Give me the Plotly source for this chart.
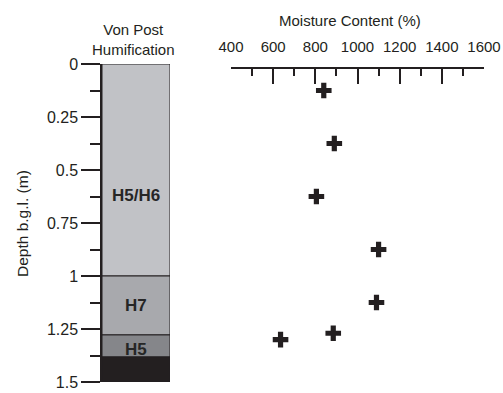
import plotly.graph_objects as go

# ---- data ----
layer_names = ["H5/H6", "H7", "H5", ""]
layer_top = [0.0, 1.0, 1.278, 1.382]
layer_bottom = [1.0, 1.278, 1.382, 1.5]
layer_colors = ["#c1c2c6", "#a8a9ad", "#85868a", "#231f20"]
label_depths = [0.62, 1.14, 1.345]

sample_depth = [0.125, 0.375, 0.625, 0.875, 1.125, 1.27, 1.30]
moisture = [840, 890, 805, 1100, 1090, 885, 635]

depth_ticks = [0, 0.25, 0.5, 0.75, 1, 1.25, 1.5]
depth_ticktext = ["0", "0.25", "0.5", "0.75", "1", "1.25", "1.5"]
moist_ticks = [400, 600, 800, 1000, 1200, 1400, 1600]

W, H = 503, 393
FONT = "Liberation Sans, Arial, sans-serif"
INK = "#231f20"

def px(x):
    return x / W

def py(y):
    return 1 - y / H

fig = go.Figure()

# stratigraphic column
for name, top, bot, col in zip(layer_names, layer_top, layer_bottom, layer_colors):
    fig.add_trace(go.Bar(
        x=[0], y=[bot - top], base=[top], width=[1],
        marker=dict(color=col, line=dict(color=INK, width=1)),
        xaxis="x", yaxis="y", showlegend=False, hoverinfo="skip",
    ))

# moisture points
fig.add_trace(go.Scatter(
    x=moisture, y=sample_depth, mode="markers",
    marker=dict(symbol="cross", size=13, color=INK, line=dict(width=0)),
    xaxis="x2", yaxis="y", showlegend=False,
))

annotations = []
for name, d in zip(layer_names, label_depths):
    annotations.append(dict(
        x=0, y=d, xref="x", yref="y", text="<b>%s</b>" % name, showarrow=False,
        xanchor="center", yanchor="middle",
        font=dict(family=FONT, size=17, color="#262626"),
    ))
annotations += [
    dict(x=px(133), y=py(39), xref="paper", yref="paper", text="Von Post<br>Humification",
         xanchor="center", yanchor="middle",
         showarrow=False, font=dict(family=FONT, size=15, color=INK), align="center"),
    dict(x=px(350), y=py(20), xref="paper", yref="paper", text="Moisture Content (%)",
         xanchor="center", yanchor="middle",
         showarrow=False, font=dict(family=FONT, size=15, color=INK)),
    dict(x=px(22), y=py(224), xref="paper", yref="paper", text="Depth b.g.l. (m)",
         xanchor="center", yanchor="middle",
         textangle=-90, showarrow=False, font=dict(family=FONT, size=15.5, color=INK)),
]

fig.update_layout(
    width=W, height=H,
    margin=dict(l=0, r=0, t=0, b=0),
    template="none",
    paper_bgcolor="white", plot_bgcolor="rgba(0,0,0,0)",
    barmode="overlay",
    font=dict(family=FONT, size=15, color=INK),
    annotations=annotations,
    xaxis=dict(domain=[px(102), px(170)], range=[-0.5, 0.5], visible=False,
               fixedrange=True, automargin=False),
    xaxis2=dict(domain=[px(231), px(484)], range=[400, 1600], anchor="free",
                position=py(68), side="top", showline=True, linecolor=INK, linewidth=1.5,
                ticks="inside", ticklen=15, tickwidth=1.5, tickcolor=INK,
                tickvals=moist_ticks, showgrid=False, zeroline=False,
                ticklabelstandoff=9,
                minor=dict(dtick=100, tick0=400, ticks="inside", ticklen=7,
                           tickwidth=1.5, tickcolor=INK, showgrid=False),
                tickfont=dict(family=FONT, size=15, color=INK), automargin=False),
    yaxis=dict(domain=[py(382), py(64)], range=[1.5, 0], anchor="x",
               showline=True, linecolor=INK, linewidth=1.5,
               ticks="outside", ticklen=19, tickwidth=1.5, tickcolor=INK,
               tickvals=depth_ticks, ticktext=depth_ticktext,
               showgrid=False, zeroline=False,
               minor=dict(dtick=0.125, tick0=0, ticks="outside", ticklen=10,
                          tickwidth=1.5, tickcolor=INK, showgrid=False),
               tickfont=dict(family=FONT, size=16, color=INK), automargin=False),
)

fig.write_html("out.html")
